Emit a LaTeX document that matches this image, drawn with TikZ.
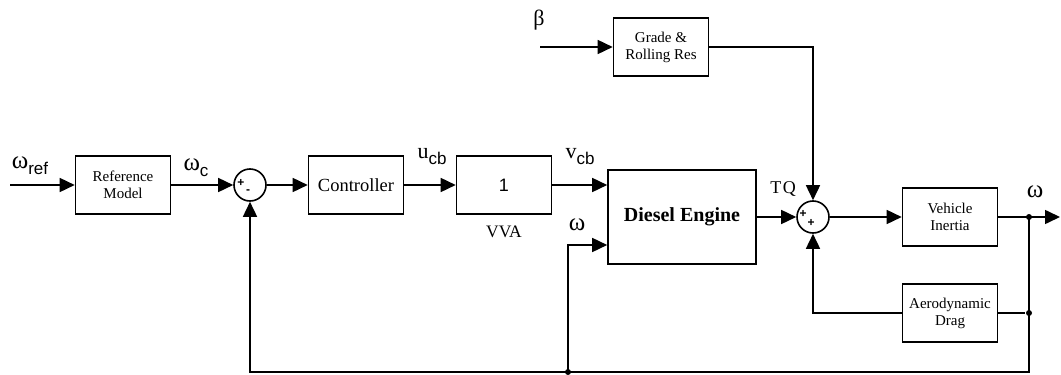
\documentclass[tikz,border=0pt]{standalone}
\usepackage{fontspec}
\setmainfont{Liberation Serif}
\setsansfont{Liberation Sans}
\usetikzlibrary{calc,arrows.meta}
\newcommand{\SigName}[2]{#1\raisebox{-6pt}{\sffamily\fontsize{17}{17}\selectfont #2}}
\newcommand{\BlockFont}{\fontsize{15}{17}\selectfont}
\newcommand{\Om}{{\fontsize{25}{25}\selectfont ω}}

\begin{document}
\begin{tikzpicture}[x=1pt,y=-1pt,line width=1.6pt,
  blockbox/.style={draw,minimum width=95pt,minimum height=58pt,inner sep=2pt,align=center,font=\BlockFont},
  bigbox/.style={blockbox,font=\fontsize{18.5}{20}\selectfont},
  sumnode/.style={draw,circle,minimum size=32pt,inner sep=0pt},
  signtxt/.style={inner sep=0pt,font=\sffamily\bfseries\fontsize{12}{12}\selectfont},
  siglab/.style={inner sep=0pt,font=\fontsize{22}{24}\selectfont},
  conn/.style={-{Triangle[length=15pt,width=14pt]}},
  jdot/.style={circle,fill,inner sep=0pt,minimum size=6pt}]
\useasboundingbox (0,0) rectangle (1061,375);

\node[blockbox] (refmodel) at (123,185) {Reference\\Model};
\node[sumnode] (sumerr) at (250,185) {};
\node[bigbox] (controller) at (356,185) {Controller};
\node[bigbox,font=\sffamily\fontsize{18}{20}\selectfont] (vva) at (504,185) {1};
\node[inner sep=0pt,font=\fontsize{17.5}{20}\selectfont] (vvalab) at (504,232) {VVA};
\node[draw,minimum width=148pt,minimum height=94pt,font=\bfseries\fontsize{20}{22}\selectfont] (engine) at (682,217) {Diesel Engine};
\node[blockbox] (grade) at (661,47) {Grade \&\\Rolling Res};
\node[sumnode] (sumtq) at (813,217) {};
\node[blockbox] (inertia) at (950,217) {Vehicle\\Inertia};
\node[blockbox] (drag) at (950,313) {Aerodynamic\\Drag};

\node[signtxt] (plusA) at ($(sumerr)+(-9,-2)$) {+};
\node[signtxt] (minusA) at ($(sumerr)+(-2,7)$) {-};
\node[signtxt] (plusB) at ($(sumtq)+(-10,-3)$) {+};
\node[signtxt] (plusC) at ($(sumtq)+(-2,6)$) {+};

\node[jdot] (dotout) at (1029,217) {};
\node[jdot] (dotdrag) at (1029,313) {};
\node[jdot] (dotbot) at (568,372) {};
\coordinate (wref) at (10,185);
\coordinate (betain) at (540,47);
\coordinate (wend) at (1060,217);

\node[siglab] (lwref) at (30,166) {\SigName{\Om}{ref}};
\node[siglab] (lwc) at (196,168) {\SigName{\Om}{c}};
\node[siglab] (lucb) at (432,157) {\SigName{u}{cb}};
\node[siglab] (lvcb) at (580,157) {\SigName{v}{cb}};
\node[siglab] (lweng) at (577,225) {\Om};
\node[siglab,font=\fontsize{18}{20}\selectfont] (ltq) at (783,189) {T\kern1.5pt Q};
\node[siglab] (lbeta) at (539,20) {β};
\node[siglab] (lwout) at (1035,192) {\Om};

\draw[conn] (wref) -- (refmodel);
\draw[conn] (refmodel) -- (sumerr);
\draw[conn] (sumerr) -- (controller);
\draw[conn] (controller) -- (vva);
\draw[conn] (vva.east) -- (vva.east -| engine.west);
\draw[conn] (engine) -- (sumtq);
\draw[conn] (sumtq) -- (inertia);
\draw[conn] (inertia) -- (wend);
\draw[conn] (betain) -- (grade);
\draw[conn] (grade.east) -| (sumtq.north);
\draw (dotdrag) -- (drag);
\draw[conn] (drag.west) -| (sumtq.south);
\draw[conn] (dotout.center) |- (dotbot.center) -| (sumerr.south);
\draw[conn] (dotbot.center) |- ($(engine.west)+(0,28)$);
\end{tikzpicture}
\end{document}
